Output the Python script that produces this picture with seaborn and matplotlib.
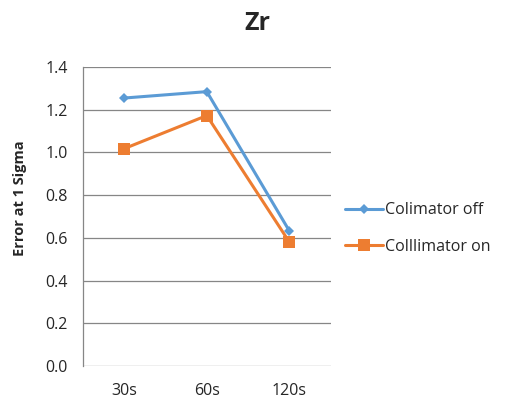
import matplotlib
matplotlib.use("Agg")
import matplotlib.pyplot as plt
import seaborn as sns
import pandas as pd

times = ["30s", "60s", "120s"]
collimator_off = [1.255, 1.285, 0.632]
collimator_on = [1.018, 1.173, 0.580]
series_names = ["Colimator off", "Colllimator on"]
yticks = [0.0, 0.2, 0.4, 0.6, 0.8, 1.0, 1.2, 1.4]

df = pd.DataFrame({
    "time": times * 2,
    "error": collimator_off + collimator_on,
    "series": [series_names[0]] * 3 + [series_names[1]] * 3,
})

sns.set_style("white")
plt.rcParams["font.family"] = ["Open Sans", "DejaVu Sans"]

fig = plt.figure(figsize=(5.05, 4.09), dpi=100)
ax = fig.add_axes([0.164, 0.105, 0.491, 0.731])

palette = {series_names[0]: "#5B9BD5", series_names[1]: "#ED7D31"}
markers = {series_names[0]: "D", series_names[1]: "s"}
sizes = {series_names[0]: 5, series_names[1]: 8}

for name in series_names:
    sub = df[df["series"] == name]
    sns.lineplot(data=sub, x="time", y="error", color=palette[name],
                 marker=markers[name], markersize=sizes[name],
                 markeredgewidth=0, linewidth=2.2, label=name, ax=ax,
                 sort=False)

ax.set_xlim(-0.5, 2.5)
ax.set_ylim(0, 1.4)
ax.set_yticks(yticks)
ax.set_yticklabels([f"{v:.1f}" for v in yticks], fontsize=11.5)
ax.tick_params(axis="x", labelsize=11.5, length=0, pad=12)
ax.tick_params(axis="y", length=0, pad=11)
ax.yaxis.grid(True, color="#868686", linewidth=0.9)
ax.set_axisbelow(True)
for s in ["top", "right", "bottom"]:
    ax.spines[s].set_visible(False)
ax.spines["left"].set_color("#868686")
ax.spines["left"].set_linewidth(0.9)

ax.set_xlabel("")
ax.set_ylabel("Error at 1 Sigma", fontsize=10.5, fontweight="bold")
ax.yaxis.set_label_coords(-0.225, 0.56)
fig.text(0.51, 0.943, "Zr", ha="center", va="center", fontsize=18,
         fontweight="bold")

ax.legend(loc="center left", bbox_to_anchor=(1.0, 0.46), frameon=False,
          fontsize=11.5, handlelength=2.4, handletextpad=0.1, labelspacing=1.3)

fig.savefig("out.png", dpi=100)
